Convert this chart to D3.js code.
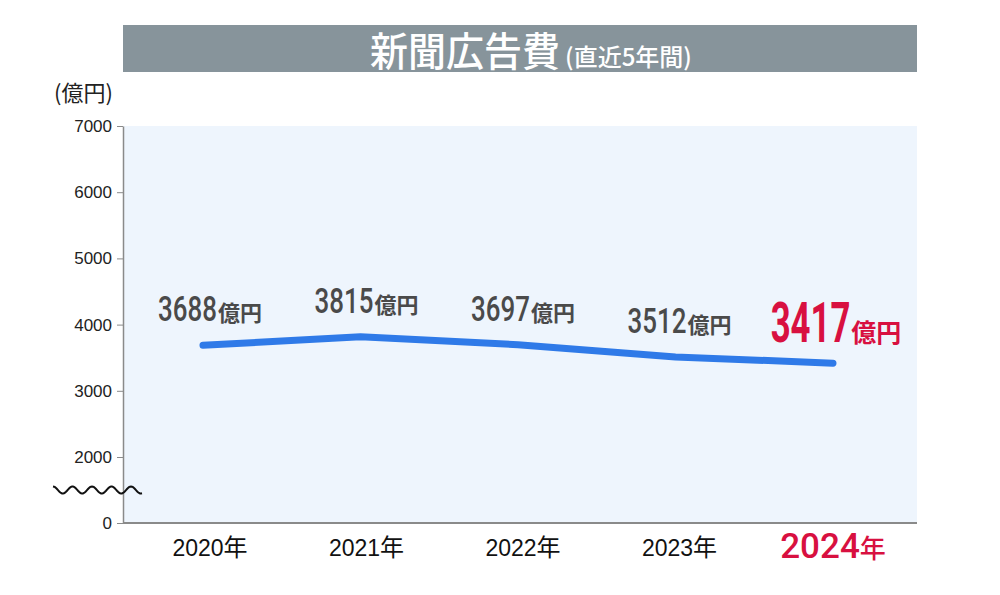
<!DOCTYPE html>
<html><head><meta charset="utf-8">
<script src="https://cdn.jsdelivr.net/npm/d3@7"></script>
<style>
html,body{margin:0;padding:0;background:#fff;}
svg{display:block;}
</style></head>
<body>
<svg id="chart" width="1000" height="595"></svg>
<script>
// ---- data ----
const years = ["2020", "2021", "2022", "2023", "2024"];
const values = [3688, 3815, 3697, 3512, 3417];
const yTicks = [0, 2000, 3000, 4000, 5000, 6000, 7000];
const titleMain = "新聞広告費";
const titleSub = "(直近5年間)";
const unitLabel = "(億円)";
const valueUnit = "億円";
const yearSuffix = "年";

// ---- layout ----
const svg = d3.select("#chart");
const plot = {left: 123, right: 917, top: 126, bottom: 523};
const red = "#d81040";
const grey = "#4a4a4a";
const blue = "#2f7ae8";

// broken axis: 0 -> bottom, 2000..7000 evenly above
const y = d3.scaleLinear().domain([0, 2000, 7000]).range([plot.bottom, 457, plot.top]);
const x = d3.scalePoint().domain(years).range([203, 833]);
const xLab = d3.scalePoint().domain(years).range([210, 836]);

// title bar
svg.append("rect").attr("x", plot.left).attr("y", 25).attr("width", plot.right - plot.left).attr("height", 47)
  .attr("fill", "#87949b");
const tg = svg.append("g");
const t1 = tg.append("text").text(titleMain)
  .attr("font-family", "Noto Sans CJK JP").attr("font-weight", 500).attr("font-size", 40)
  .attr("fill", "#fff");
const w1 = t1.node().getComputedTextLength() * 0.95;
t1.attr("transform", "scale(0.95,1)");
const t2 = tg.append("text").text(titleSub).attr("x", w1 + 5)
  .attr("font-family", "Noto Sans CJK JP").attr("font-weight", 500).attr("font-size", 24)
  .attr("fill", "#fff");
const w2 = t2.node().getComputedTextLength();
tg.attr("transform", `translate(${531 - (w1 + 5 + w2) / 2},66)`);

// plot background
svg.append("rect").attr("x", plot.left).attr("y", plot.top)
  .attr("width", plot.right - plot.left).attr("height", plot.bottom - plot.top)
  .attr("fill", "#eef5fd");

// unit label
svg.append("text").text(unitLabel).attr("x", 54).attr("y", 101)
  .attr("font-family", "Noto Sans CJK JP").attr("font-size", 22).attr("fill", "#222");

// y axis
const yAxis = svg.append("g").attr("transform", `translate(${plot.left},0)`)
  .call(d3.axisLeft(y).tickValues(yTicks).tickFormat(d3.format("d")).tickSize(6).tickPadding(5).tickSizeOuter(0));
yAxis.select(".domain").attr("stroke", "#8a8a8a").attr("stroke-width", 1.5);
yAxis.selectAll(".tick line").attr("stroke", "#8a8a8a");
yAxis.selectAll(".tick text").attr("font-family", "Liberation Sans, Arial, sans-serif")
  .attr("font-size", 17).attr("fill", "#222");

// bottom axis line
svg.append("line").attr("x1", plot.left).attr("x2", plot.right)
  .attr("y1", plot.bottom).attr("y2", plot.bottom)
  .attr("stroke", "#8a8a8a").attr("stroke-width", 2);

// axis break wave (decoration between 0 and 2000)
const waveY = (y(0) + y(2000)) / 2;
const waveX0 = plot.left - 70, waveLen = 89, period = 19.5, amp = 3.5;
const wavePts = d3.range(0, waveLen + 0.5, 1).map(t => [waveX0 + t, waveY - amp * Math.cos(2 * Math.PI * t / period)]);
svg.append("path").attr("d", d3.line()(wavePts)).attr("fill", "none")
  .attr("stroke", "#111").attr("stroke-width", 2);

// line
svg.append("path").datum(values)
  .attr("d", d3.line().x((d, i) => x(years[i])).y(d => y(d)))
  .attr("fill", "none").attr("stroke", blue).attr("stroke-width", 7)
  .attr("stroke-linecap", "round").attr("stroke-linejoin", "round");

// value labels
values.forEach((v, i) => {
  const last = i === values.length - 1;
  const g = svg.append("g");
  const sx = last ? 0.62 : 0.74;
  const n = g.append("text").text(v)
    .attr("font-family", "Roboto, sans-serif").attr("font-weight", last ? 700 : 500)
    .attr("font-size", last ? 56 : 35).attr("fill", last ? red : grey);
  const nw = n.node().getComputedTextLength() * sx;
  n.attr("transform", `scale(${sx},1)`);
  const u = g.append("text").text(valueUnit).attr("x", nw + 1)
    .attr("font-family", "Noto Sans CJK JP").attr("font-weight", 700)
    .attr("font-size", last ? 25 : 22).attr("fill", last ? red : grey);
  const uw = u.node().getComputedTextLength();
  const base = y(v) - (last ? 21 : 24);
  g.attr("transform", `translate(${xLab(years[i]) - (nw + 1 + uw) / 2},${base})`);
});

// year labels
years.forEach((yr, i) => {
  const last = i === years.length - 1;
  const t = svg.append("text").attr("x", xLab(years[i]) - (last ? 3 : 0)).attr("y", last ? 558 : 556)
    .attr("text-anchor", "middle").attr("fill", last ? red : "#111")
    .attr("font-family", last ? "Roboto, sans-serif" : "Liberation Sans, Arial, sans-serif")
    .attr("font-weight", last ? 500 : 400);
  t.append("tspan").text(yr).attr("font-size", last ? 35 : 23);
  t.append("tspan").text(yearSuffix).attr("font-family", "Noto Sans CJK JP")
    .attr("font-size", last ? 26 : 24);
});
</script>
</body></html>
